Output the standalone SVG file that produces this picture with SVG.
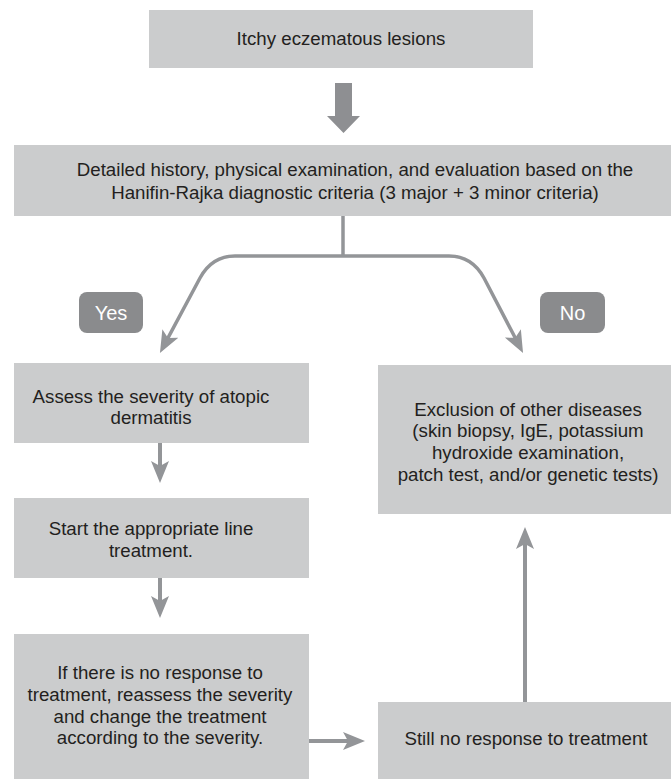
<svg xmlns="http://www.w3.org/2000/svg" width="671" height="779" viewBox="0 0 671 779">
<style>
.box{fill:#cbcccd;}
.t{font-family:"Liberation Sans",Arial,sans-serif;font-size:18.7px;fill:#231f20;text-anchor:middle;}
.lbl{fill:#8a8b8d;}
.lt{font-family:"Liberation Sans",Arial,sans-serif;font-size:20px;fill:#ffffff;text-anchor:middle;}
.c{fill:none;stroke:#939598;stroke-width:4;}
.cb{fill:none;stroke:#939598;stroke-width:3.5;}
</style>
<defs>
<marker id="ah" markerUnits="userSpaceOnUse" markerWidth="24" markerHeight="20" refX="10" refY="9" orient="auto" viewBox="0 0 24 20">
<path d="M0,0 L22,9 L0,18 L5,9 z" fill="#939598"/>
</marker>
</defs>
<g id="connectors">
<path d="M335,83 H352 V116 H360 L343.5,133 L327,116 H335 Z" fill="#8e8f92"/>
<path class="cb" d="M343,216 V256"/>
<path class="cb" d="M343,256 H235 Q212,256 200,278 L165.6,342.4" marker-end="url(#ah)"/>
<path class="cb" d="M343,256 H449 Q472,256 484,278 L517.5,342.3" marker-end="url(#ah)"/>
<path class="c" d="M160,443 V471" marker-end="url(#ah)"/>
<path class="c" d="M160,578 V606" marker-end="url(#ah)"/>
<path class="c" d="M309,741 H353" marker-end="url(#ah)"/>
<path class="c" d="M525,702 V539" marker-end="url(#ah)"/>
</g>
<g id="n1">
<rect class="box" x="149" y="10" width="384" height="58"/>
<text class="t" x="341" y="45">Itchy eczematous lesions</text>
</g>
<g id="n2">
<rect class="box" x="14" y="145" width="700" height="71"/>
<text class="t" x="355" y="176">Detailed history, physical examination, and evaluation based on the</text>
<text class="t" x="355" y="199">Hanifin-Rajka diagnostic criteria (3 major + 3 minor criteria)</text>
</g>
<g id="yes">
<rect class="lbl" x="79" y="292" width="64" height="41" rx="8"/>
<text class="lt" x="111" y="320">Yes</text>
</g>
<g id="no">
<rect class="lbl" x="540" y="292" width="65" height="41" rx="8"/>
<text class="lt" x="572.5" y="320">No</text>
</g>
<g id="n3">
<rect class="box" x="14" y="363" width="295" height="80"/>
<text class="t" x="151" y="403">Assess the severity of atopic</text>
<text class="t" x="151" y="424">dermatitis</text>
</g>
<g id="n4">
<rect class="box" x="14" y="498" width="295" height="80"/>
<text class="t" x="151" y="535">Start the appropriate line</text>
<text class="t" x="151" y="557">treatment.</text>
</g>
<g id="n5">
<rect class="box" x="14" y="634" width="295" height="150"/>
<text class="t" x="160" y="679">If there is no response to</text>
<text class="t" x="160" y="701">treatment, reassess the severity</text>
<text class="t" x="160" y="722.5">and change the treatment</text>
<text class="t" x="160" y="744">according to the severity.</text>
</g>
<g id="n6">
<rect class="box" x="378" y="365" width="300" height="149"/>
<text class="t" x="528" y="416">Exclusion of other diseases</text>
<text class="t" x="528" y="437">(skin biopsy, IgE, potassium</text>
<text class="t" x="528" y="459">hydroxide examination,</text>
<text class="t" x="528" y="481">patch test, and/or genetic tests)</text>
</g>
<g id="n7">
<rect class="box" x="378" y="702" width="300" height="80"/>
<text class="t" x="526" y="745">Still no response to treatment</text>
</g>
</svg>
